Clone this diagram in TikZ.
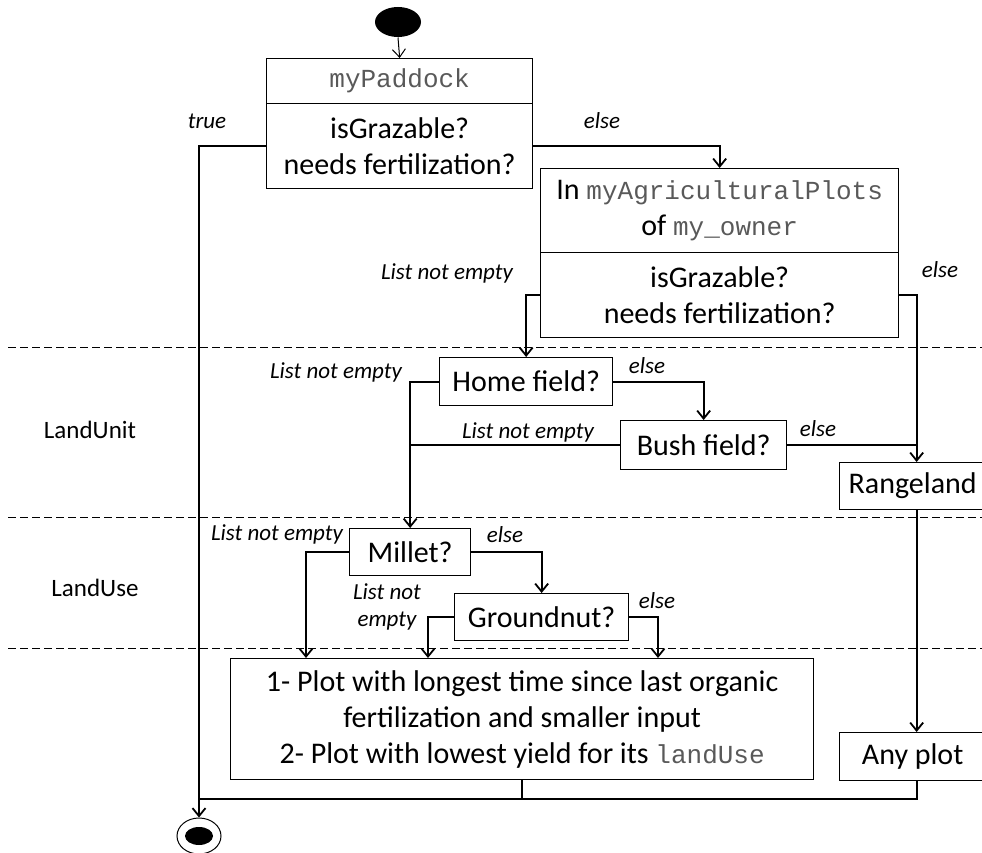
\documentclass[tikz,border=0pt]{standalone}
\usepackage{fontspec}
\setmainfont{Carlito}
\setmonofont{Liberation Mono}
\usetikzlibrary{arrows.meta,shapes.geometric}
\newcommand\mono[1]{{\fontsize{26}{36}\selectfont\ttfamily\color{black!65}#1}}
\begin{document}
\begin{tikzpicture}[x=1pt,y=-1pt,>={Straight Barb[length=8pt,width=13pt]}]
\begin{scope}

\tikzstyle{node1} = [draw,line width=1.3pt,inner sep=0pt,anchor=north west,align=center,font=\fontsize{30}{36}\selectfont];
\tikzstyle{node2} = [inner sep=0pt,align=center,font=\fontsize{23}{27}\selectfont\itshape];
\tikzstyle{node3} = [inner sep=0pt,font=\fontsize{25}{30}\selectfont];
\tikzstyle{node4} = [ellipse,inner sep=0pt,line width=1pt];
\tikzstyle{node5} = [line width=1pt,dash pattern=on 8pt off 4pt];
\tikzstyle{node6} = [->,line width=1.8pt];
\tikzstyle{node7} = [-,line width=1.8pt];

\useasboundingbox (0,0) rectangle (982,853);

% swim lanes
\draw [node5] (8,347) -- (982,347);
\draw [node5] (8,517) -- (982,517);
\draw [node5] (8,648) -- (982,648);
\node [node3] (u1) at (90,430) {LandUnit};
\node [node3] (u2) at (95,588) {LandUse};

% start and end
\node [node4,fill=black,minimum width=46pt,minimum height=30pt] (st) at (398,22) {};
\node [node4,draw,minimum width=44pt,minimum height=36pt] (en) at (199,836) {};
\node [node4,fill=black,minimum width=28pt,minimum height=18pt] (en1) at (en.center) {};
\coordinate (c1) at (199,799);

% boxes
\node [node1,minimum width=266pt,minimum height=45pt] (p1) at (266,58) {\mono{myPaddock}};
\node [node1,minimum width=266pt,minimum height=85pt] (p2) at (266,103) {isGrazable?\\needs fertilization?};
\node [node1,minimum width=358pt,minimum height=84pt] (a1) at (540,168) {In \mono{myAgriculturalPlots}\\of \mono{my\_owner}};
\node [node1,minimum width=358pt,minimum height=85pt] (a2) at (540,252) {isGrazable?\\needs fertilization?};
\node [node1,minimum width=173pt,minimum height=48pt] (h1) at (439,357) {Home field?};
\node [node1,minimum width=166pt,minimum height=49pt] (b1) at (620,420) {Bush field?};
\node [node1,minimum width=154pt,minimum height=47pt] (r1) at (839,462) {\hspace{-8pt}Rangeland};
\node [node1,minimum width=121pt,minimum height=47pt] (m1) at (349,528) {Millet?};
\node [node1,minimum width=174pt,minimum height=47pt] (g1) at (454,593) {Groundnut?};
\node [node1,minimum width=583pt,minimum height=121pt] (o1) at (230,658) {1- Plot with longest time since last organic\\fertilization and smaller input\\2- Plot with lowest yield for its \mono{landUse}};
\node [node1,minimum width=154pt,minimum height=48pt] (o2) at (839,732) {\hspace{-8pt}Any plot};

% labels
\node [node2] (l1) at (207,121) {true};
\node [node2] (l2) at (602,121) {else};
\node [node2] (l3) at (447,273) {List not empty};
\node [node2] (l4) at (940,270) {else};
\node [node2] (l5) at (336,372) {List not empty};
\node [node2] (l6) at (647,366) {else};
\node [node2] (l7) at (528,432) {List not empty};
\node [node2] (l8) at (818,429) {else};
\node [node2] (l9) at (277,534) {List not empty};
\node [node2] (l10) at (505,535) {else};
\node [node2] (l11) at (387,607) {List not\\empty};
\node [node2] (l12) at (657,601) {else};

% flow
\draw [->,line width=1pt] (st.south) -- (p1.north);
\draw [node6] (p2.west) -| (en.north);
\draw [node6] (p2.east) -| (a1.north);
\draw [node6] (a2.west) -| (h1.north);
\draw [node6] (a2.east) -| (r1.north);
\draw [node6] (h1.west) -| (m1.north);
\draw [node6] (h1.east) -| (b1.north);
\draw [node7] (b1.west) -- (b1.west -| m1.north);
\draw [node7] (b1.east) -- (b1.east -| r1.north);
\draw [node6] (r1.south) -- (o2.north);
\draw [node6] (m1.west) -| ([xshift=76pt]o1.north west);
\draw [node6] (m1.east) -| (g1.north);
\draw [node6] (g1.west) -| ([xshift=198pt]o1.north west);
\draw [node6] (g1.east) -| ([xshift=428pt]o1.north west);
\draw [node7] (o1.south) |- (c1);
\draw [node7] (o2.south) |- (c1);

\end{scope}
\end{tikzpicture}
\end{document}
